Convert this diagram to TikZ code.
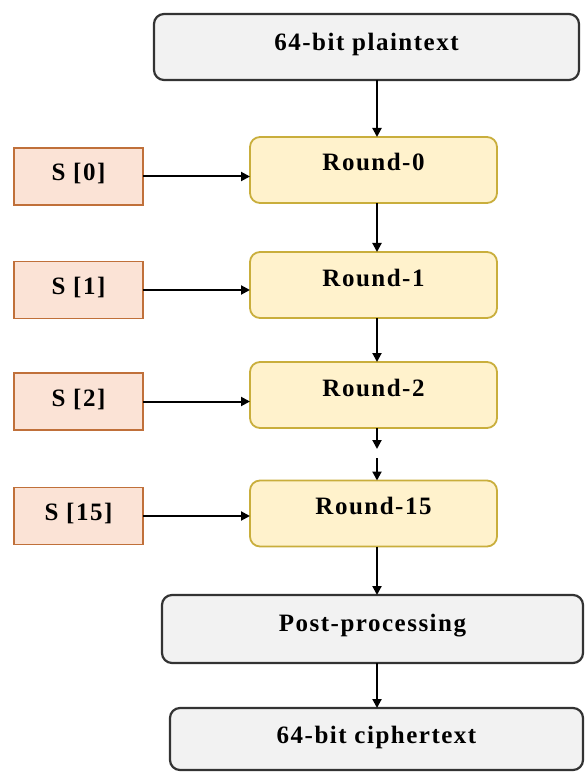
\documentclass[tikz,border=0pt]{standalone}
\usepackage{fontspec}
\setmainfont{Liberation Serif}
\newfontfamily\boxfont[LetterSpace=6]{Liberation Serif}
\usetikzlibrary{arrows.meta,calc}
\definecolor{grayfill}{HTML}{F2F2F2}
\definecolor{grayline}{HTML}{333333}
\definecolor{roundfill}{HTML}{FFF2CC}
\definecolor{roundline}{HTML}{C9AE3C}
\definecolor{keyfill}{HTML}{FBE3D6}
\definecolor{keyline}{HTML}{C0703A}
\begin{document}
\begin{tikzpicture}[x=1pt,y=-1pt,
  every node/.style={inner sep=0pt, outer sep=0pt, font=\boxfont\fontsize{25}{30}\selectfont\bfseries},
  iobox/.style={draw=grayline, fill=grayfill, line width=2.2pt, rounded corners=10pt},
  roundbox/.style={draw=roundline, fill=roundfill, line width=1.8pt, rounded corners=10pt,
    minimum width=247pt, text height=34pt, text depth=32pt},
  keybox/.style={draw=keyline, fill=keyfill, line width=1.8pt,
    minimum width=129pt, text height=33pt, text depth=24pt},
  arr/.style={draw=black, line width=2pt, -{Triangle[length=9pt,width=9pt]}}
]
\useasboundingbox (0,0) rectangle (585,775);

% input and output blocks
\node[iobox, minimum width=425pt, text height=37pt, text depth=29pt] (plain) at (366.5,47) {64-bit plaintext};
\node[iobox, minimum width=421pt, text height=36pt, text depth=32pt] (post) at (372.5,629) {Post-processing};
\node[iobox, minimum width=413pt, text height=35pt, text depth=27pt] (cipher) at (376.5,739) {64-bit ciphertext};

% rounds
\node[roundbox] (r0) at (373.5,170) {Round-0};
\node[roundbox] (r1) at (373.5,285) {Round-1};
\node[roundbox] (r2) at (373.5,395) {Round-2};
\node[roundbox] (r15) at (373.5,513.5) {Round-15};

% subkeys
\node[keybox] (s0) at (78.5,176.5) {S [0]};
\node[keybox] (s1) at (78.5,290) {S [1]};
\node[keybox] (s2) at (78.5,401.5) {S [2]};
\node[keybox] (s15) at (78.5,516) {S [15]};

% main data path
\coordinate (ax) at (377,0);
\coordinate (gapA) at (377,449);
\coordinate (gapB) at (377,458);
\draw[arr] (plain.south -| ax) -- (r0.north -| ax);
\draw[arr] (r0.south -| ax) -- (r1.north -| ax);
\draw[arr] (r1.south -| ax) -- (r2.north -| ax);
\draw[arr] (r2.south -| ax) -- (gapA);
\draw[arr] (gapB) -- (r15.north -| ax);
\draw[arr] (r15.south -| ax) -- (post.north -| ax);
\draw[arr] (post.south -| ax) -- (cipher.north -| ax);

% subkey inputs
\draw[arr] (s0.east) -- (r0.west |- s0.east);
\draw[arr] (s1.east) -- (r1.west |- s1.east);
\draw[arr] (s2.east) -- (r2.west |- s2.east);
\draw[arr] (s15.east) -- (r15.west |- s15.east);
\end{tikzpicture}
\end{document}
